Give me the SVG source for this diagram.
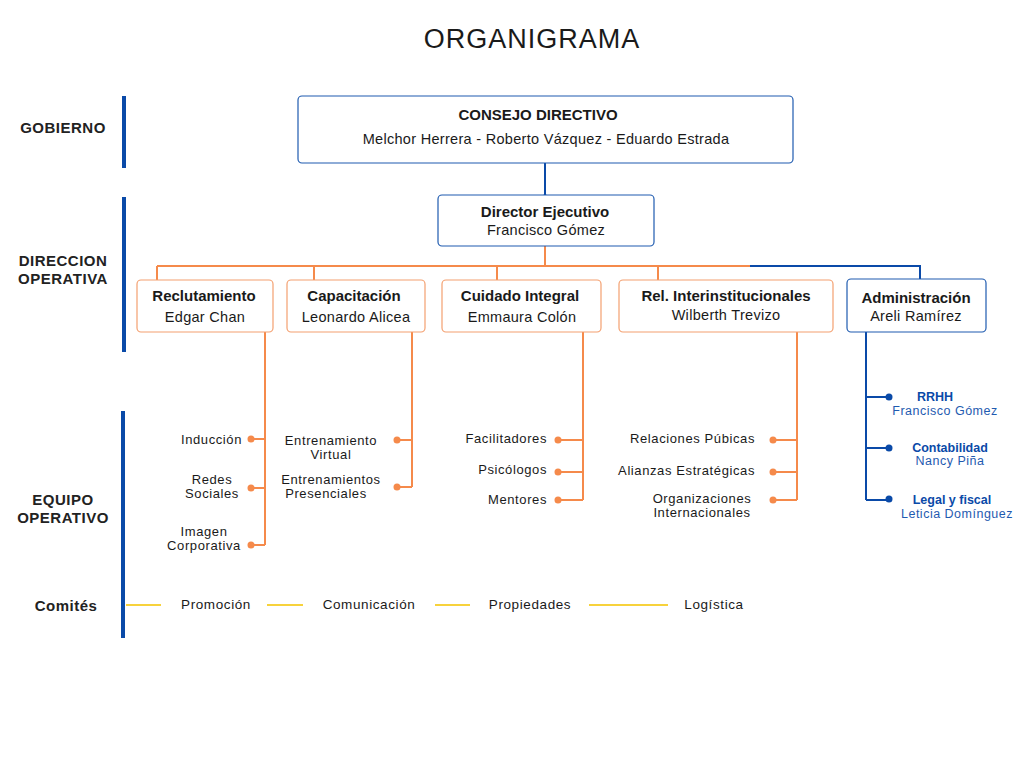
<svg xmlns="http://www.w3.org/2000/svg" width="1024" height="768" viewBox="0 0 1024 768">
<style>
text{font-family:"Liberation Sans","DejaVu Sans",sans-serif;fill:#1a1a1a}
.lvl{font-size:15px;text-anchor:middle;letter-spacing:0.5px;font-weight:bold;fill:#222}
.bar{stroke:#0a4aa8;stroke-width:4}
.bx{fill:#fff;stroke:#1f5bb0;stroke-width:1.2}
.ob{fill:#fff;stroke:#f4a070;stroke-width:1.2}
.h{font-size:15px;font-weight:bold;text-anchor:middle}
.n{font-size:14.5px;text-anchor:middle;letter-spacing:0.3px}
.it{font-size:13px;text-anchor:end;letter-spacing:0.6px}
.itc{font-size:13px;text-anchor:middle;letter-spacing:0.6px}
.ol{stroke:#f58a4b;stroke-width:2;fill:none}
.bl{stroke:#0a4aa8;stroke-width:2;fill:none}
.od{fill:#f58a4b}
.bd{fill:#0a4aa8}
.bh{font-size:12.5px;font-weight:bold;text-anchor:middle;fill:#0a4aa8}
.bn{font-size:12.5px;text-anchor:middle;fill:#1f5bb0;letter-spacing:0.5px}
.yl{stroke:#f7d23c;stroke-width:2}
.cm{font-size:13.5px;text-anchor:middle;letter-spacing:0.6px}
</style>
<rect width="1024" height="768" fill="#fff"/>
<text x="532" y="48" font-size="27" text-anchor="middle" letter-spacing="1">ORGANIGRAMA</text>
<g id="levels">
<line class="bar" x1="124" y1="96" x2="124" y2="168"/>
<line class="bar" x1="124" y1="197" x2="124" y2="352"/>
<line class="bar" x1="123" y1="411" x2="123" y2="638"/>
<text class="lvl" x="63" y="133">GOBIERNO</text>
<text class="lvl" x="63" y="266">DIRECCION</text>
<text class="lvl" x="63" y="284">OPERATIVA</text>
<text class="lvl" x="63" y="505">EQUIPO</text>
<text class="lvl" x="63" y="523">OPERATIVO</text>
<text class="lvl" x="66" y="611">Comités</text>
</g>
<g id="connectors">
<line class="bl" x1="545" y1="163" x2="545" y2="198"/>
<circle class="bd" cx="545" cy="198" r="3.5"/>
<path class="ol" d="M545 246V266M157 266H750M157 266V285M314 266V285M497 266V285M658 266V285"/>
<path class="bl" d="M750 266H920V283"/>
<circle class="od" cx="157" cy="285" r="4"/><circle class="od" cx="314" cy="285" r="4"/>
<circle class="od" cx="497" cy="285" r="4"/><circle class="od" cx="658" cy="285" r="4"/>
<circle class="bd" cx="920" cy="283" r="4"/>
<path class="ol" d="M265 332V545M251 439H265M251 488H265M251 545H265"/>
<circle class="od" cx="251" cy="439" r="3.5"/><circle class="od" cx="251" cy="488" r="3.5"/><circle class="od" cx="251" cy="545" r="3.5"/>
<path class="ol" d="M412 332V487M397 440H412M397 487H412"/>
<circle class="od" cx="397" cy="440" r="3.5"/><circle class="od" cx="397" cy="487" r="3.5"/>
<path class="ol" d="M583 332V500M558 440H583M558 472H583M558 500H583"/>
<circle class="od" cx="558" cy="440" r="3.5"/><circle class="od" cx="558" cy="472" r="3.5"/><circle class="od" cx="558" cy="500" r="3.5"/>
<path class="ol" d="M797 332V500M773 440H797M773 472H797M773 500H797"/>
<circle class="od" cx="773" cy="440" r="3.5"/><circle class="od" cx="773" cy="472" r="3.5"/><circle class="od" cx="773" cy="500" r="3.5"/>
<path class="bl" d="M866 332V500M866 397H889M866 448H889M866 500H889"/>
<circle class="bd" cx="889" cy="397" r="3.5"/><circle class="bd" cx="889" cy="448" r="3.5"/><circle class="bd" cx="889" cy="499" r="3.5"/>
<line class="yl" x1="126" y1="605" x2="161" y2="605"/>
<line class="yl" x1="267" y1="605" x2="303" y2="605"/>
<line class="yl" x1="435" y1="605" x2="470" y2="605"/>
<line class="yl" x1="589" y1="605" x2="668" y2="605"/>
</g>
<g id="consejo"><rect class="bx" x="298" y="96" width="495" height="67" rx="4"/>
<text class="h" x="538" y="120">CONSEJO DIRECTIVO</text>
<text class="n" x="546" y="144">Melchor Herrera - Roberto Vázquez - Eduardo Estrada</text></g>
<g id="director"><rect class="bx" x="438" y="195" width="216" height="51" rx="4"/>
<text class="h" x="545" y="217">Director Ejecutivo</text>
<text class="n" x="546" y="235">Francisco Gómez</text></g>
<g id="reclutamiento"><rect class="ob" x="137" y="280" width="136" height="52" rx="4"/>
<text class="h" x="204" y="301">Reclutamiento</text><text class="n" x="205" y="322">Edgar Chan</text></g>
<g id="capacitacion"><rect class="ob" x="287" y="280" width="138" height="52" rx="4"/>
<text class="h" x="354" y="301">Capacitación</text><text class="n" x="356" y="322">Leonardo Alicea</text></g>
<g id="cuidado"><rect class="ob" x="442" y="280" width="159" height="52" rx="4"/>
<text class="h" x="520" y="301">Cuidado Integral</text><text class="n" x="522" y="322">Emmaura Colón</text></g>
<g id="rel"><rect class="ob" x="619" y="280" width="214" height="52" rx="4"/>
<text class="h" x="726" y="301">Rel. Interinstitucionales</text><text class="n" x="726" y="320">Wilberth Trevizo</text></g>
<g id="admin"><rect class="bx" x="847" y="279" width="139" height="53" rx="4"/>
<text class="h" x="916" y="303">Administración</text><text class="n" x="916" y="321">Areli Ramírez</text></g>
<g id="items">
<text class="it" x="242" y="444">Inducción</text>
<text class="itc" x="212" y="484">Redes</text><text class="itc" x="212" y="498">Sociales</text>
<text class="itc" x="204" y="536">Imagen</text><text class="itc" x="204" y="550">Corporativa</text>
<text class="itc" x="331" y="445">Entrenamiento</text><text class="itc" x="331" y="459">Virtual</text>
<text class="itc" x="331" y="484">Entrenamientos</text><text class="itc" x="326" y="498">Presenciales</text>
<text class="it" x="547" y="443">Facilitadores</text>
<text class="it" x="547" y="474">Psicólogos</text>
<text class="it" x="547" y="504">Mentores</text>
<text class="it" x="755" y="443">Relaciones Púbicas</text>
<text class="it" x="755" y="475">Alianzas Estratégicas</text>
<text class="itc" x="702" y="503">Organizaciones</text><text class="itc" x="702" y="517">Internacionales</text>
<text class="bh" x="935" y="401">RRHH</text><text class="bn" x="945" y="415">Francisco Gómez</text>
<text class="bh" x="950" y="452">Contabilidad</text><text class="bn" x="950" y="465">Nancy Piña</text>
<text class="bh" x="952" y="504">Legal y fiscal</text><text class="bn" x="957" y="518">Leticia Domínguez</text>
</g>
<g id="comites">
<text class="cm" x="216" y="609">Promoción</text>
<text class="cm" x="369" y="609">Comunicación</text>
<text class="cm" x="530" y="609">Propiedades</text>
<text class="cm" x="714" y="609">Logística</text>
</g>
</svg>
